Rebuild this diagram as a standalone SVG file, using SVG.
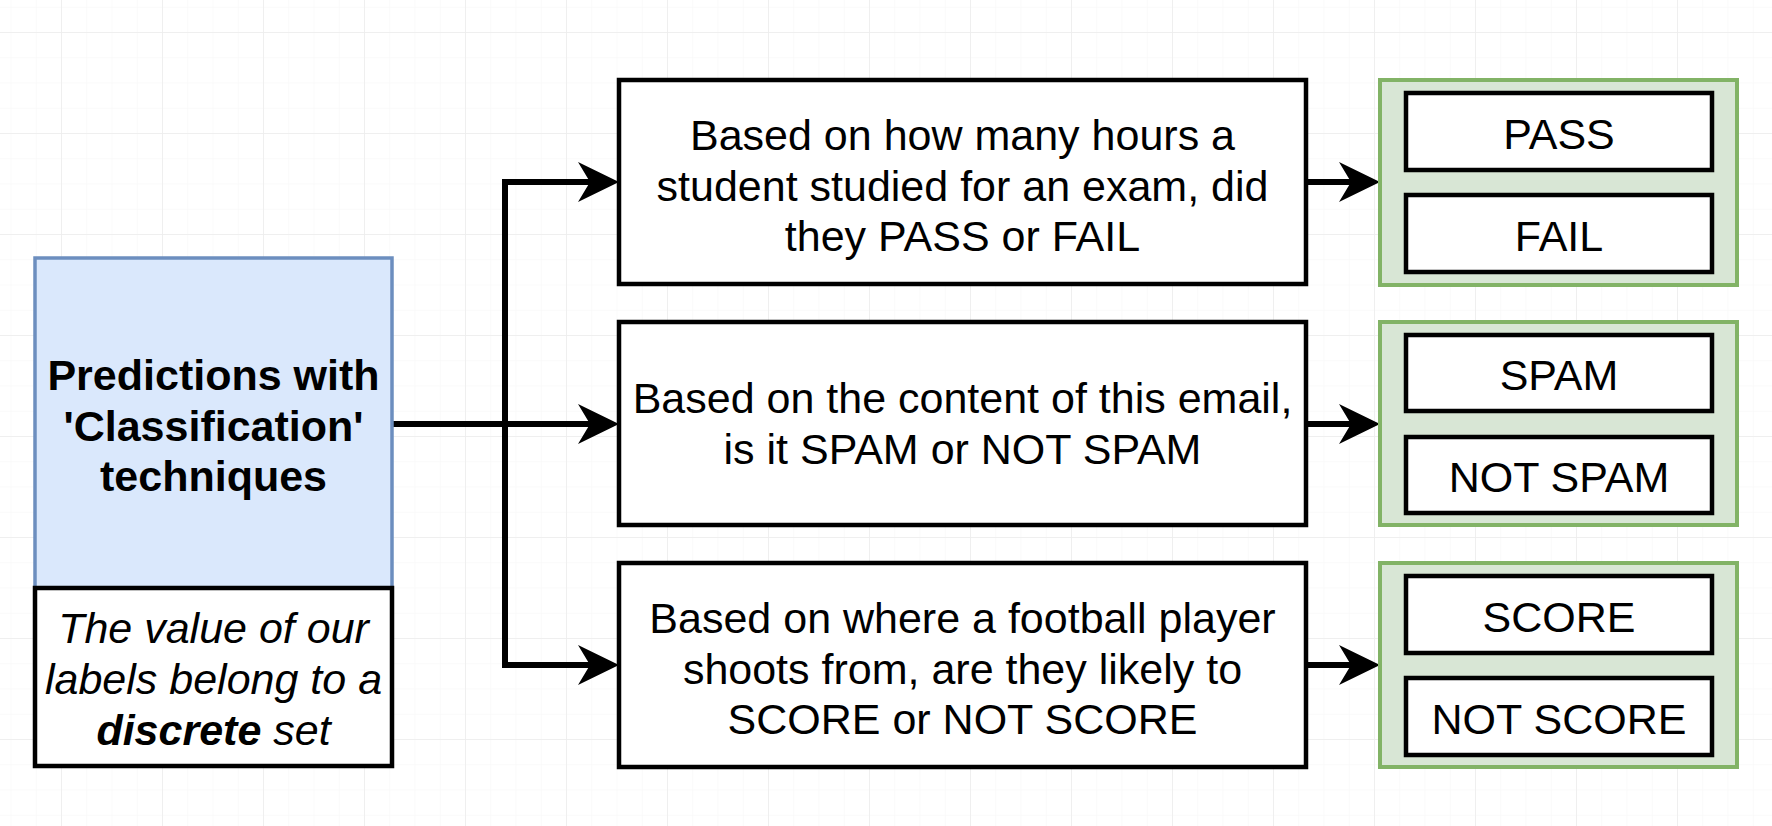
<svg xmlns="http://www.w3.org/2000/svg" width="1772" height="826" viewBox="0 0 1772 826">
  <style>
    text { font-family: "Liberation Sans", Arial, Helvetica, sans-serif; font-size: 43px; fill: #000; text-anchor: middle; }
    .bold { font-weight: bold; }
    .ital { font-style: italic; }
    .box { fill: #ffffff; stroke: #000; stroke-width: 4.5; }
    .blue { fill: #dae8fc; stroke: #6c8ebf; stroke-width: 3.5; }
    .green { fill: #d8e6d5; stroke: #82b366; stroke-width: 4; }
    .edge { fill: none; stroke: #000; stroke-width: 6; marker-end: url(#arrow); }
  </style>
  <defs>
    <pattern id="minor" width="25.25" height="25.25" patternUnits="userSpaceOnUse" patternTransform="translate(61,32)">
      <path d="M0,0 H25.25 M0,0 V25.25" fill="none" stroke="#f6f6f6" stroke-width="1"/>
    </pattern>
    <pattern id="major" width="101" height="101" patternUnits="userSpaceOnUse" patternTransform="translate(61,32)">
      <path d="M0,0 H101 M0,0 V101" fill="none" stroke="#ececec" stroke-width="1.5"/>
    </pattern>
    <marker id="arrow" markerUnits="userSpaceOnUse" viewBox="0 0 44 44" markerWidth="44" markerHeight="44" refX="14" refY="22" orient="auto">
      <path d="M43,22 L2,2 L14,22 L2,42 Z" fill="#000"/>
    </marker>
  </defs>

  <rect width="1772" height="826" fill="#ffffff"/>
  <rect width="1772" height="826" fill="url(#minor)"/>
  <rect width="1772" height="826" fill="url(#major)"/>

  <g id="connectors">
    <path class="edge" d="M392,424 H590"/>
    <path class="edge" d="M392,424 H505 V182 H590"/>
    <path class="edge" d="M392,424 H505 V665 H590"/>
    <path class="edge" d="M1306,182 H1351"/>
    <path class="edge" d="M1306,424 H1351"/>
    <path class="edge" d="M1306,665 H1351"/>
  </g>

  <g id="classification">
    <rect class="blue" x="35" y="258" width="357" height="330"/>
    <text class="bold" x="213.5" y="390">Predictions with</text>
    <text class="bold" x="213.5" y="441">'Classification'</text>
    <text class="bold" x="213.5" y="491">techniques</text>
  </g>

  <g id="discrete-note">
    <rect class="box" x="35" y="588" width="357" height="178"/>
    <text class="ital" x="213.5" y="643">The value of our</text>
    <text class="ital" x="213.5" y="694">labels belong to a</text>
    <text class="ital" x="213.5" y="745"><tspan class="bold">discrete</tspan> set</text>
  </g>

  <g id="question-exam">
    <rect class="box" x="619" y="80" width="687" height="204"/>
    <text x="962.5" y="150">Based on how many hours a</text>
    <text x="962.5" y="201">student studied for an exam, did</text>
    <text x="962.5" y="251">they PASS or FAIL</text>
  </g>

  <g id="question-email">
    <rect class="box" x="619" y="322" width="687" height="203"/>
    <text x="962.5" y="413">Based on the content of this email,</text>
    <text x="962.5" y="464">is it SPAM or NOT SPAM</text>
  </g>

  <g id="question-football">
    <rect class="box" x="619" y="563" width="687" height="204"/>
    <text x="962.5" y="633">Based on where a football player</text>
    <text x="962.5" y="684">shoots from, are they likely to</text>
    <text x="962.5" y="734">SCORE or NOT SCORE</text>
  </g>

  <g id="labels-exam">
    <rect class="green" x="1380" y="80" width="357" height="205"/>
    <rect class="box" x="1406" y="93" width="306" height="77"/>
    <text x="1559" y="149">PASS</text>
    <rect class="box" x="1406" y="195" width="306" height="77"/>
    <text x="1559" y="251">FAIL</text>
  </g>

  <g id="labels-email">
    <rect class="green" x="1380" y="322" width="357" height="203"/>
    <rect class="box" x="1406" y="335" width="306" height="76"/>
    <text x="1559" y="390">SPAM</text>
    <rect class="box" x="1406" y="437" width="306" height="76"/>
    <text x="1559" y="492">NOT SPAM</text>
  </g>

  <g id="labels-football">
    <rect class="green" x="1380" y="563" width="357" height="204"/>
    <rect class="box" x="1406" y="576" width="306" height="77"/>
    <text x="1559" y="632">SCORE</text>
    <rect class="box" x="1406" y="678" width="306" height="77"/>
    <text x="1559" y="734">NOT SCORE</text>
  </g>
</svg>
